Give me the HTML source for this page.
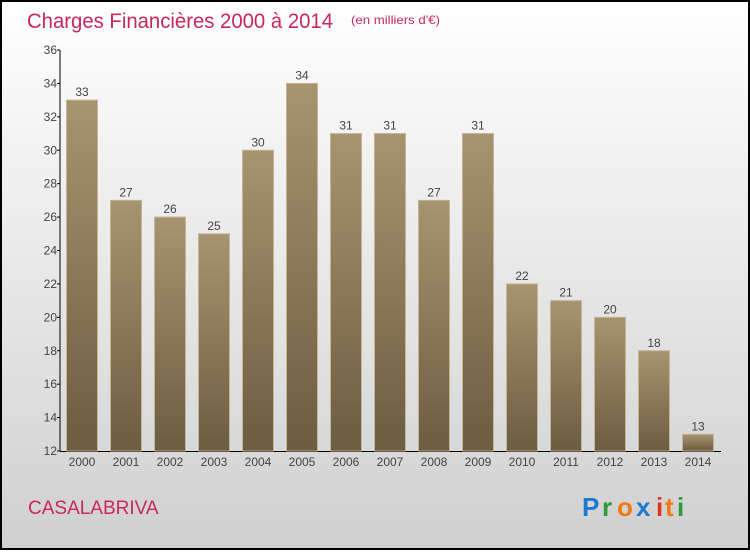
<!DOCTYPE html>
<html><head><meta charset="utf-8"><style>
body{margin:0;width:750px;height:550px;overflow:hidden;font-family:"Liberation Sans",sans-serif}
</style></head><body>
<svg id="c" width="750" height="550" xmlns="http://www.w3.org/2000/svg">
<defs>
<linearGradient id="bg" x1="0" y1="0" x2="0" y2="1"><stop offset="0" stop-color="#ffffff"/><stop offset="1" stop-color="#d0d0d0"/></linearGradient>
<linearGradient id="bar" x1="0" y1="0" x2="0" y2="1"><stop offset="0" stop-color="#a8946f"/><stop offset="1" stop-color="#6c5c40"/></linearGradient>
</defs>
<rect x="1" y="1" width="748" height="548" fill="url(#bg)" stroke="#000" stroke-width="2"/>
<text x="27" y="28" font-size="21" fill="#c8285a" textLength="306" lengthAdjust="spacingAndGlyphs">Charges Financières 2000 à 2014</text>
<text x="351" y="24" font-size="12" fill="#c8285a" textLength="89" lengthAdjust="spacingAndGlyphs">(en milliers d'€)</text>
<text x="28" y="514" font-size="19" fill="#c8285a">CASALABRIVA</text>
<g font-size="26" font-weight="bold">
<text x="582" y="516" fill="#1a7ad0">P</text><text x="602" y="516" fill="#2a9a3a">r</text><text x="617" y="516" fill="#f07a10">o</text><text x="636" y="516" fill="#1a7ad0">x</text><text x="656" y="516" fill="#e03020">i</text><text x="665" y="516" fill="#f07a10">t</text><text x="677" y="516" fill="#2a9a3a">i</text>
</g>
<g id="plot"></g>
</svg>
<script>
const categories=["2000","2001","2002","2003","2004","2005","2006","2007","2008","2009","2010","2011","2012","2013","2014"];
const values=[33,27,26,25,30,34,31,31,27,31,22,21,20,18,13];
const yTicks=[12,14,16,18,20,22,24,26,28,30,32,34,36];
const NS="http://www.w3.org/2000/svg";
const g=document.getElementById('plot');
const yMin=12,yMax=36,plotTop=50,plotBot=451,axisX=60;
const y=v=>plotBot-(v-yMin)/(yMax-yMin)*(plotBot-plotTop);
const x=i=>82+i*44;
function mk(t,a,txt){const e=document.createElementNS(NS,t);for(const k in a)e.setAttribute(k,a[k]);if(txt!=null)e.textContent=txt;g.appendChild(e);return e;}
let e=mk('line',{x1:axisX,y1:plotTop,x2:axisX,y2:plotBot,stroke:'#000'});


e=mk('line',{x1:axisX,y1:plotBot+0.5,x2:721,y2:plotBot+0.5,stroke:'#000'});


yTicks.forEach(t=>{
 e=mk('line',{x1:axisX-3,y1:y(t),x2:axisX,y2:y(t),stroke:'#000'});
 
 
 e=mk('text',{x:axisX-3,y:y(t)+4,'font-size':12,'text-anchor':'end',fill:'#444'},t);
 
 
});
categories.forEach((c,i)=>{
 const v=values[i];
 e=mk('rect',{x:x(i)-15.5,y:y(v),width:31,height:plotBot-y(v),fill:'url(#bar)',stroke:'#c4b498','stroke-width':1});
 
 
 e=mk('text',{x:x(i),y:y(v)-4,'font-size':12,'text-anchor':'middle',fill:'#444'},v);
 
 
 e=mk('text',{x:x(i),y:plotBot+15,'font-size':12,'text-anchor':'middle',fill:'#444'},c);
 
 
});
</script>
</body></html>
